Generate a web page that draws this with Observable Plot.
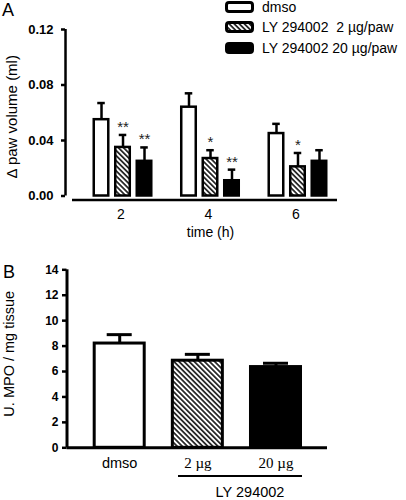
<!DOCTYPE html>
<html><head><meta charset="utf-8">
<script src="https://cdn.jsdelivr.net/npm/d3@7"></script>
<script src="https://cdn.jsdelivr.net/npm/@observablehq/plot@0.6"></script>
<style>
body{margin:0;background:#fff;}
#root{position:relative;width:406px;height:500px;overflow:hidden;font-family:"Liberation Sans",Arial,sans-serif;color:#000;}
.abs{position:absolute;line-height:1;}
.leg{position:absolute;left:225px;height:20px;display:flex;align-items:center;font-size:14px;white-space:pre;}
.leg svg{margin-right:8px;}
</style></head><body>
<svg width="0" height="0" style="position:absolute">
<defs>
<pattern id="hatch" patternUnits="userSpaceOnUse" width="3.6" height="3.6" patternTransform="rotate(-45)">
<rect width="3.6" height="3.6" fill="#fff"/>
<line x1="0.9" y1="0" x2="0.9" y2="3.6" stroke="#000" stroke-width="1.5"/>
</pattern>
</defs></svg>
<div id="root"></div>
<script>
// ---------- Panel A data ----------
const times = ["2", "4", "6"];
const treatments = ["dmso", "LY 294002  2 µg/paw", "LY 294002 20 µg/paw"];
const meanDmso = [0.055, 0.064, 0.045];
const semDmso  = [0.012, 0.010, 0.007];
const meanLY2  = [0.035, 0.027, 0.021];
const semLY2   = [0.009, 0.006, 0.010];
const meanLY20 = [0.025, 0.011, 0.025];
const semLY20  = [0.010, 0.008, 0.008];
const starsDmso = ["", "", ""];
const starsLY2  = ["**", "*", "*"];
const starsLY20 = ["**", "**", ""];
const yTicksA = [0, 0.04, 0.08, 0.12];
const yLabelA = "Δ paw volume (ml)";
const xLabelA = "time (h)";

// ---------- Panel B data ----------
const groupsB = ["dmso", "2 µg", "20 µg"];
const mpoMean = [8.2, 6.85, 6.35];
const mpoSem  = [0.7, 0.5, 0.3];
const yTicksB = [0, 2, 4, 6, 8, 10, 12, 14];
const yLabelB = "U. MPO / mg tissue";
const bracketLabel = "LY 294002";

const FONT = '"Liberation Sans", Arial, sans-serif';
const fills = ["#fff", "url(#hatch)", "#000"];

const means = [meanDmso, meanLY2, meanLY20];
const sems = [semDmso, semLY2, semLY20];
const stars = [starsDmso, starsLY2, starsLY20];
const rowsA = [];
treatments.forEach((t, k) => times.forEach((h, i) => rowsA.push({time: h, treatment: t, k, mean: means[k][i], sem: sems[k][i], sig: stars[k][i]})));

const root = document.getElementById("root");

// ---------- Panel A ----------
const stepA = 21.5;
const marksA = [];
treatments.forEach((t, k) => {
  const d = rowsA.filter(r => r.k === k);
  const dx = (k - 1) * stepA;
  marksA.push(
    Plot.ruleX(d, {x: "time", y1: "mean", y2: r => r.mean + r.sem, dx, stroke: "#000", strokeWidth: 2.5}),
    Plot.tickY(d, {x: "time", y: r => r.mean + r.sem, dx, insetLeft: 3.5, insetRight: 3.5, stroke: "#000", strokeWidth: 2.5}),
    Plot.barY(d, {x: "time", y: "mean", dx, fill: fills[k], stroke: "#000", strokeWidth: 2.5}),
    Plot.text(d.filter(r => r.sig), {x: "time", y: r => r.mean + r.sem, text: "sig", dx, dy: -3, lineAnchor: "bottom", fontSize: 15, fill: "#222"})
  );
});

const plotA = Plot.plot({
  width: 406, height: 245,
  marginTop: 29, marginBottom: 49.5, marginLeft: 65, marginRight: 69,
  style: {fontFamily: FONT, color: "#000", background: "transparent", overflow: "visible"},
  x: {domain: times, range: [115.25, 304.75], paddingInner: 0.834, paddingOuter: 0, round: false},
  y: {domain: [0, 0.12]},
  marks: [
    Plot.axisY(yTicksA, {tickFormat: d3.format(".2f"), tickSize: 4, tickPadding: 8, strokeWidth: 2.5, fontWeight: "bold", fontSize: 13, label: null}),
    Plot.ruleX([times[0]], {x: d => d, y1: 0, y2: 0.12, dx: -57.5, stroke: "#000", strokeWidth: 2.5}),
    Plot.ruleY([0], {dy: 4, insetLeft: 7, stroke: "#000", strokeWidth: 2.5}),
    Plot.axisX({tickSize: 0, tickPadding: 13, fontSize: 14, dx: -2, label: null}),
    ...marksA,
    Plot.text([xLabelA], {text: d => d, frameAnchor: "bottom", dy: 41, dx: 9, fontSize: 14}),
    Plot.text([yLabelA], {text: d => d, frameAnchor: "left", textAnchor: "middle", lineAnchor: "middle", rotate: -90, dx: -53, dy: 4, fontSize: 15})
  ]
});
plotA.style.position = "absolute"; plotA.style.left = "0px"; plotA.style.top = "0px";
root.appendChild(plotA);

// ---------- Panel B ----------
const rowsB = groupsB.map((g, i) => ({group: g, k: i, mean: mpoMean[i], sem: mpoSem[i]}));
const marksB = [];
rowsB.forEach((r, k) => {
  const d = [r];
  marksB.push(
    Plot.ruleX(d, {x: "group", y1: "mean", y2: r => r.mean + r.sem, stroke: "#000", strokeWidth: 3}),
    Plot.tickY(d, {x: "group", y: r => r.mean + r.sem, insetLeft: 12.5, insetRight: 12.5, stroke: "#000", strokeWidth: 3}),
    Plot.barY(d, {x: "group", y: "mean", fill: fills[k], stroke: "#000", strokeWidth: 3})
  );
});

const plotB = Plot.plot({
  width: 406, height: 250,
  marginTop: 19.3, marginBottom: 52.7, marginLeft: 66.5, marginRight: 79,
  style: {fontFamily: FONT, color: "#000", background: "transparent", overflow: "visible"},
  x: {domain: groupsB, range: [94.2, 300.5], paddingInner: 0.36, paddingOuter: 0, round: false},
  y: {domain: [0, 14]},
  marks: [
    Plot.axisY(yTicksB, {tickSize: 4.5, tickPadding: 4, strokeWidth: 2.5, fontWeight: "bold", fontSize: 12, label: null}),
    Plot.ruleX([groupsB[0]], {x: d => d, y1: 0, y2: 14, dx: -52.7, stroke: "#000", strokeWidth: 3}),
    ...marksB,
    Plot.ruleY([0], {stroke: "#000", strokeWidth: 3}),
    Plot.axisX([groupsB[0]], {tickSize: 0, tickPadding: 9.5, fontSize: 14.5, label: null}),
    Plot.axisX(groupsB.slice(1), {tickSize: 0, tickPadding: 9.5, fontSize: 15, fontFamily: '"Liberation Serif", "Times New Roman", serif', label: null}),
    Plot.text([yLabelB], {text: d => d, frameAnchor: "left", textAnchor: "middle", lineAnchor: "middle", rotate: -90, dx: -57.5, dy: -5, fontSize: 14.5})
  ]
});
plotB.style.position = "absolute"; plotB.style.left = "0px"; plotB.style.top = "250px";
root.appendChild(plotB);

// ---------- HTML annotations ----------
function addDiv(html, css) {
  const d = document.createElement("div");
  d.className = "abs";
  d.textContent = html;
  Object.assign(d.style, css);
  root.appendChild(d);
  return d;
}
addDiv("A", {left: "2px", top: "1px", fontSize: "18px"});
addDiv("B", {left: "3px", top: "263px", fontSize: "18px"});
addDiv("", {left: "178px", top: "475px", width: "124px", borderTop: "2px solid #000"});
addDiv(bracketLabel, {left: "250px", top: "492px", fontSize: "14.5px", transform: "translate(-50%,-50%)", whiteSpace: "nowrap"});

// legend
const legTops = [-3, 17, 38];
treatments.forEach((t, k) => {
  const row = document.createElement("div");
  row.className = "leg";
  row.style.top = legTops[k] + "px";
  row.innerHTML = `<svg width="29" height="12"><rect x="1.5" y="1.5" width="26" height="9" rx="2.5" fill="${fills[k]}" stroke="#000" stroke-width="3"/></svg><span></span>`;
  row.querySelector("span").textContent = t;
  root.appendChild(row);
});
</script>
</body></html>
